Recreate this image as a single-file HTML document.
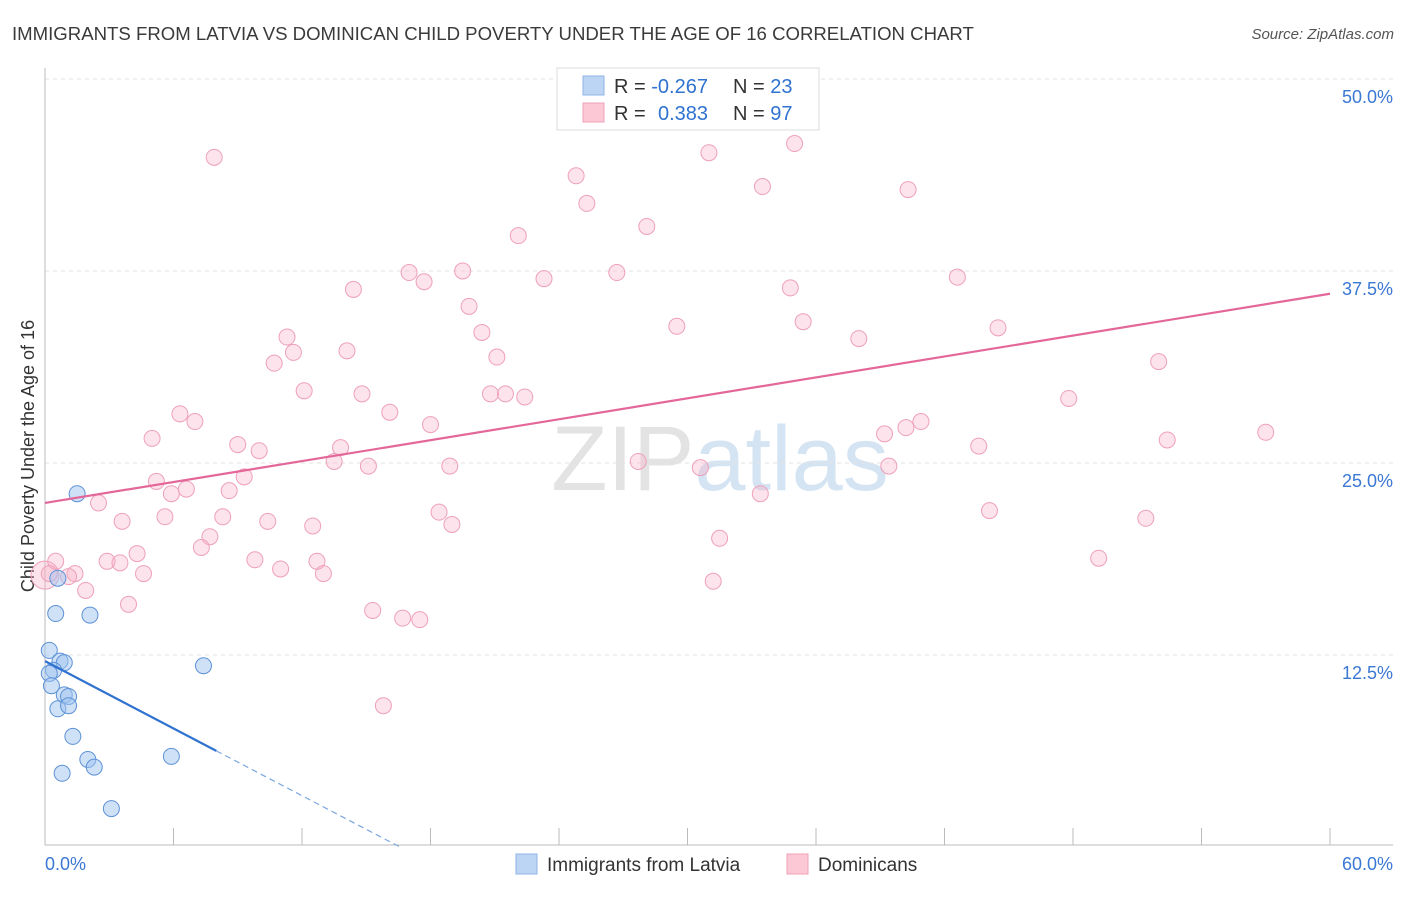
<!DOCTYPE html>
<html><head><meta charset="utf-8"><style>
body{margin:0;background:#fff;font-family:"Liberation Sans",sans-serif;}
svg text{font-family:"Liberation Sans",sans-serif;}
</style></head><body>
<svg id="chart" width="1406" height="892" viewBox="0 0 1406 892" xmlns="http://www.w3.org/2000/svg">
<text x="12" y="40" font-size="18.6" fill="#3a3a3a">IMMIGRANTS FROM LATVIA VS DOMINICAN CHILD POVERTY UNDER THE AGE OF 16 CORRELATION CHART</text>
<text x="1394" y="39" font-size="15" fill="#555" text-anchor="end" font-style="italic">Source: ZipAtlas.com</text>
<text x="720" y="490" font-size="92" text-anchor="middle" fill="#e3e3e3" font-family="Liberation Serif">ZIP<tspan fill="#d5e4f3" font-family="Liberation Sans">atlas</tspan></text>
<text transform="translate(34,456) rotate(-90)" font-size="18" fill="#333" text-anchor="middle">Child Poverty Under the Age of 16</text>
<g id="grid"></g>
<g id="marks"></g>
<g>
<rect x="557" y="68" width="262" height="62" fill="#fff" stroke="#ddd"/>
<rect x="583" y="76" width="21" height="19" fill="#bcd5f5" stroke="#8fb4e6"/>
<rect x="583" y="103" width="21" height="19" fill="#fcc8d6" stroke="#f0a0b8"/>
<text x="614" y="93" font-size="20" fill="#333">R = <tspan fill="#2f72d0">-0.267</tspan><tspan x="733">N = </tspan><tspan fill="#2f72d0">23</tspan></text>
<text x="614" y="120" font-size="20" fill="#333">R = <tspan x="658" fill="#2f72d0">0.383</tspan><tspan x="733">N = </tspan><tspan fill="#2f72d0">97</tspan></text>
</g>
<g>
<rect x="516" y="854" width="21" height="20" fill="#bcd5f5" stroke="#8fb4e6"/>
<text x="547" y="871" font-size="19" fill="#333">Immigrants from Latvia</text>
<rect x="787" y="854" width="21" height="20" fill="#fcc8d6" stroke="#f0a0b8"/>
<text x="818" y="871" font-size="19" fill="#333">Dominicans</text>
</g>
</svg>
<script>
const yTicks=[12.5,25,37.5,50];
const yTickLabels=["12.5%","25.0%","37.5%","50.0%"];
const xTickVals=[0,6,12,18,24,30,36,42,48,54,60];
const xEndLabels=["0.0%","60.0%"];
const domX=[0.0,7.9,35.0,31.0,24.8,33.5,40.3,25.3,28.1,22.1,17.0,19.5,26.7,17.7,23.3,14.4,34.8,42.6,19.8,29.5,35.4,44.5,20.4,11.3,38.0,11.6,14.1,21.1,10.7,52.0,12.1,14.8,20.8,21.5,22.4,47.8,6.3,16.1,7.0,18.0,5.0,9.0,40.2,40.9,39.2,10.0,13.8,43.6,52.4,57.0,13.5,15.1,18.9,27.7,30.6,39.4,5.2,9.3,5.9,6.6,8.6,33.4,2.5,18.4,44.1,51.4,5.6,8.3,10.4,3.6,12.5,19.0,7.7,31.5,7.3,4.3,2.9,3.5,12.7,9.8,0.5,11.0,4.6,13.0,1.4,49.2,0.2,1.1,31.2,1.9,3.9,15.3,16.7,17.5,15.8];
const domY=[17.7,44.9,45.8,45.2,43.7,43.0,42.8,41.9,40.4,39.8,37.4,37.5,37.4,36.8,37.0,36.3,36.4,37.1,35.2,33.9,34.2,33.8,33.5,33.2,33.1,32.2,32.3,31.9,31.5,31.6,29.7,29.5,29.5,29.5,29.3,29.2,28.2,28.3,27.7,27.5,26.6,26.2,27.3,27.7,26.9,25.8,26.0,26.1,26.5,27.0,25.1,24.8,24.8,25.1,24.7,24.8,23.8,24.1,23.0,23.3,23.2,23.0,22.4,21.8,21.9,21.4,21.5,21.5,21.2,21.2,20.9,21.0,20.2,20.1,19.5,19.1,18.6,18.5,18.6,18.7,18.6,18.1,17.8,17.8,17.8,18.8,17.8,17.6,17.3,16.7,15.8,15.4,14.9,14.8,9.2];
const latX=[1.5,0.5,2.1,0.2,0.7,0.9,0.4,0.2,0.3,0.9,1.1,0.6,1.1,1.3,2.0,2.3,0.8,5.9,7.4,3.1,0.6];
const latY=[23.0,15.2,15.1,12.8,12.1,12.0,11.5,11.3,10.5,9.9,9.8,9.0,9.2,7.2,5.7,5.2,4.8,5.9,11.8,2.5,17.5];
const domTrend=[22.4,0.227];
const latTrend=[12.1,-0.73];
const NS="http://www.w3.org/2000/svg";
const sx=v=>45+v*(1285/60);
const sy=v=>847-v*15.36;
function mk(tag,attrs,parent){const e=document.createElementNS(NS,tag);for(const k in attrs)e.setAttribute(k,attrs[k]);parent.appendChild(e);return e;}
const grid=document.getElementById('grid'),marks=document.getElementById('marks');
yTicks.forEach((t,i)=>{
 const l=mk('line',{x1:45,x2:1393,y1:sy(t),y2:sy(t),stroke:'#e2e2e2','stroke-dasharray':'4,4'},grid);
 
 
 const tx=mk('text',{x:1393,y:sy(t)+24,'font-size':18,fill:'#3a78d4','text-anchor':'end'},grid);
 tx.textContent=yTickLabels[i];
 
 
});
const ax=mk('line',{x1:45,x2:1393,y1:845,y2:845,stroke:'#bbb'},grid);


const ay=mk('line',{x1:45,x2:45,y1:68,y2:845,stroke:'#bbb'},grid);


xTickVals.forEach(t=>{
 const l=mk('line',{x1:sx(t),x2:sx(t),y1:828,y2:845,stroke:'#bbb'},grid);
 
 
});
const xl0=mk('text',{x:45,y:870,'font-size':18,fill:'#3a78d4'},grid);xl0.textContent=xEndLabels[0];


const xl1=mk('text',{x:1393,y:870,'font-size':18,fill:'#3a78d4','text-anchor':'end'},grid);xl1.textContent=xEndLabels[1];


domX.forEach((x,i)=>{
 const c=mk('circle',{cx:sx(x),cy:sy(domY[i]),r:i===0?14:8,fill:'rgba(248,175,198,0.35)',stroke:'#eea0ba','stroke-width':1},marks);
 
 
});
latX.forEach((x,i)=>{
 const c=mk('circle',{cx:sx(x),cy:sy(latY[i]),r:8,fill:'rgba(160,195,240,0.5)',stroke:'#5d92d6','stroke-width':1},marks);
 
 
});
const dl=mk('line',{x1:sx(0),y1:sy(domTrend[0]),x2:sx(60),y2:sy(domTrend[0]+domTrend[1]*60),stroke:'#e4679a','stroke-width':2.2},marks);


const xEnd=8, xZero=-latTrend[0]/latTrend[1];
const ll=mk('line',{x1:sx(0),y1:sy(latTrend[0]),x2:sx(xEnd),y2:sy(latTrend[0]+latTrend[1]*xEnd),stroke:'#2f72d0','stroke-width':2.2},marks);


const ld=mk('line',{x1:sx(xEnd),y1:sy(latTrend[0]+latTrend[1]*xEnd),x2:sx(xZero),y2:sy(0),stroke:'#7aa6e0','stroke-width':1.2,'stroke-dasharray':'6,4'},marks);


</script>
</body></html>
